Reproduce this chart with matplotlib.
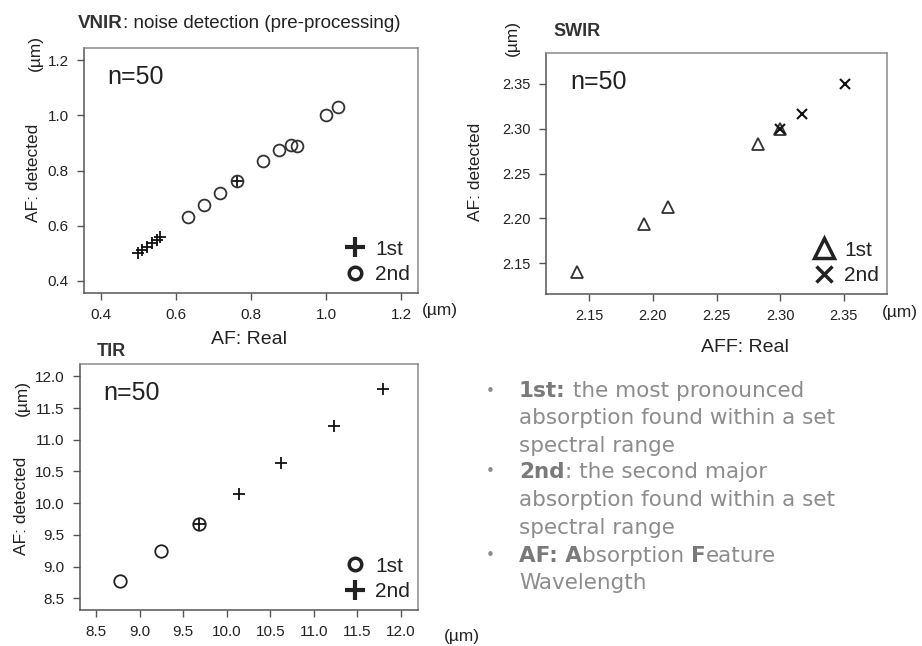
import matplotlib
matplotlib.use("Agg")
import matplotlib.pyplot as plt
from matplotlib.lines import Line2D

plt.rcParams['font.family'] = ['Liberation Sans', 'DejaVu Sans']

W, H = 922, 646

# VNIR
vnir_1st_x = [0.50, 0.51, 0.523, 0.536, 0.549, 0.557, 0.762]
vnir_1st_y = [0.50, 0.51, 0.522, 0.536, 0.549, 0.558, 0.761]
vnir_2nd_x = [0.631, 0.676, 0.717, 0.762, 0.832, 0.874, 0.907, 0.923, 1.0, 1.031]
vnir_2nd_y = [0.632, 0.675, 0.719, 0.761, 0.833, 0.874, 0.893, 0.888, 1.001, 1.032]
vnir_ticks = [0.4, 0.6, 0.8, 1.0, 1.2]

# SWIR
swir_1st_x = [2.140, 2.193, 2.212, 2.283, 2.300]
swir_1st_y = [2.141, 2.194, 2.213, 2.283, 2.299]
swir_2nd_x = [2.300, 2.317, 2.351]
swir_2nd_y = [2.300, 2.316, 2.350]
swir_ticks = [2.15, 2.20, 2.25, 2.30, 2.35]

# TIR
tir_1st_x = [8.775, 9.246, 9.686]
tir_1st_y = [8.77, 9.244, 9.678]
tir_2nd_x = [9.686, 10.145, 10.623, 11.23, 11.797]
tir_2nd_y = [9.678, 10.142, 10.628, 11.21, 11.80]
tir_ticks = [8.5, 9.0, 9.5, 10.0, 10.5, 11.0, 11.5, 12.0]


def box(x0, y0, x1, y1):
    return [x0 / W, 1 - y1 / H, (x1 - x0) / W, (y1 - y0) / H]


def fx(x):
    return x / W


def fy(y):
    return 1 - y / H


def style(ax, ticks, lim, fmt):
    ax.set_xlim(lim)
    ax.set_ylim(lim)
    ax.set_xticks(ticks)
    ax.set_yticks(ticks)
    ax.set_xticklabels([fmt % t for t in ticks])
    ax.set_yticklabels([fmt % t for t in ticks])
    for s in ax.spines.values():
        s.set_color('#8a8a8a')
        s.set_linewidth(1.1)
    ax.spines['left'].set_color('#555555')
    ax.spines['bottom'].set_color('#555555')
    ax.tick_params(direction='out', length=5, width=1, color='#555555',
                   labelsize=11, labelcolor='#222222', pad=6)
    ax.text(0.07, 0.93, 'n=50', transform=ax.transAxes, fontsize=18,
            color='#222222', va='top', ha='left')


def legend(ax, h1, h2):
    ax.legend([h1, h2], ['1st', '2nd'], loc='lower right', frameon=False,
              fontsize=15, handletextpad=0.35, labelspacing=0.3,
              handlelength=1.2, borderaxespad=0.15,
              bbox_to_anchor=(1.01, -0.01), labelcolor='#222222')


fig = plt.figure(figsize=(W / 100, H / 100), dpi=100)

# ---- VNIR ----
ax1 = fig.add_axes(box(84, 48, 418, 293))
ax1.plot(vnir_1st_x, vnir_1st_y, ls='none', marker='+', ms=9, mew=1.3, color='#111111')
ax1.plot(vnir_2nd_x, vnir_2nd_y, ls='none', marker='o', ms=8.5, mew=1.3,
         mfc='none', mec='#333333')
style(ax1, vnir_ticks, (0.355, 1.245), '%.1f')
legend(ax1,
       Line2D([], [], ls='none', marker='+', ms=15, mew=3, color='#222222'),
       Line2D([], [], ls='none', marker='o', ms=9, mew=2.5, mfc='none', mec='#222222'))
t = fig.text(fx(78), fy(24), 'VNIR', fontsize=13.5, fontweight='bold',
             color='#333333', va='center')
ax1.annotate(': noise detection (pre-processing)', xy=(1, 0.5), xycoords=t,
             va='center', ha='left', fontsize=13.5, color='#222222',
             annotation_clip=False)
fig.text(fx(440), fy(311), '(\u00b5m)', fontsize=12.5, ha='center', va='center', color='#222222')
fig.text(fx(249), fy(340), 'AF: Real', fontsize=14, ha='center', va='center', color='#222222')
fig.text(fx(33), fy(173), 'AF: detected', fontsize=12.5, rotation=90,
         ha='center', va='center', color='#222222')
fig.text(fx(35), fy(53), '(\u00b5m)', fontsize=12.5, rotation=90,
         ha='center', va='center', color='#222222')

# ---- SWIR ----
ax2 = fig.add_axes(box(546, 53, 887, 294))
ax2.plot(swir_1st_x, swir_1st_y, ls='none', marker='^', ms=9, mew=1.3,
         mfc='none', mec='#333333')
ax2.plot(swir_2nd_x, swir_2nd_y, ls='none', marker='x', ms=6.5, mew=1.5, color='#111111')
style(ax2, swir_ticks, (2.116, 2.384), '%.2f')
ax2.tick_params(labelsize=10.5)
legend(ax2,
       Line2D([], [], ls='none', marker='^', ms=14, mew=2.5, mfc='none', mec='#222222'),
       Line2D([], [], ls='none', marker='x', ms=12, mew=2.5, color='#222222'))
fig.text(fx(553), fy(31), 'SWIR', fontsize=13, fontweight='bold', color='#333333', va='center')
fig.text(fx(900), fy(312), '(\u00b5m)', fontsize=12.5, ha='center', va='center', color='#222222')
fig.text(fx(745), fy(348), 'AFF: Real', fontsize=14, ha='center', va='center', color='#222222')
fig.text(fx(475), fy(172), 'AF: detected', fontsize=12.5, rotation=90,
         ha='center', va='center', color='#222222')
fig.text(fx(512), fy(38), '(\u00b5m)', fontsize=12.5, rotation=90,
         ha='center', va='center', color='#222222')

# ---- TIR ----
ax3 = fig.add_axes(box(80, 364, 418, 610))
ax3.plot(tir_1st_x, tir_1st_y, ls='none', marker='o', ms=9, mew=1.3,
         mfc='none', mec='#222222')
ax3.plot(tir_2nd_x, tir_2nd_y, ls='none', marker='+', ms=9, mew=1.3, color='#111111')
style(ax3, tir_ticks, (8.316, 12.195), '%.1f')
legend(ax3,
       Line2D([], [], ls='none', marker='o', ms=9, mew=2.5, mfc='none', mec='#222222'),
       Line2D([], [], ls='none', marker='+', ms=15, mew=3, color='#222222'))
fig.text(fx(97), fy(352), 'TIR', fontsize=13, fontweight='bold', color='#333333', va='center')
fig.text(fx(462), fy(636), '(\u00b5m)', fontsize=12.5, ha='center', va='center', color='#222222')
fig.text(fx(22), fy(506), 'AF: detected', fontsize=12.5, rotation=90,
         ha='center', va='center', color='#222222')
fig.text(fx(22), fy(398), '(\u00b5m)', fontsize=12.5, rotation=90,
         ha='center', va='center', color='#222222')

# ---- notes ----
grey = '#8c8c8c'
bold_grey = '#7a7a7a'
note_fs = 15.5
note_font = ['DejaVu Sans']
lines = [
    (True, [('1st:', True), (' the most pronounced', False)]),
    (False, [('absorption found within a set', False)]),
    (False, [('spectral range', False)]),
    (True, [('2nd', True), (': the second major', False)]),
    (False, [('absorption found within a set', False)]),
    (False, [('spectral range', False)]),
    (True, [('AF: A', True), ('bsorption ', False), ('F', True), ('eature', False)]),
    (False, [('Wavelength', False)]),
]
line_y = [391, 418.5, 446, 472, 500, 528, 556, 583]
for (bullet, parts), y in zip(lines, line_y):
    if bullet:
        fig.text(fx(490), fy(y), '\u2022', fontsize=11, color=grey, va='center',
                 ha='center', family=note_font)
    prev = None
    for s, b in parts:
        kw = dict(fontsize=note_fs, color=bold_grey if b else grey,
                  fontweight='bold' if b else 'normal', family=note_font)
        if prev is None:
            prev = fig.text(fx(519), fy(y), s, va='center', ha='left', **kw)
        else:
            prev = ax3.annotate(s, xy=(1, 0), xycoords=prev, va='bottom', ha='left',
                                annotation_clip=False, **kw)

fig.savefig('out.png', dpi=100)
